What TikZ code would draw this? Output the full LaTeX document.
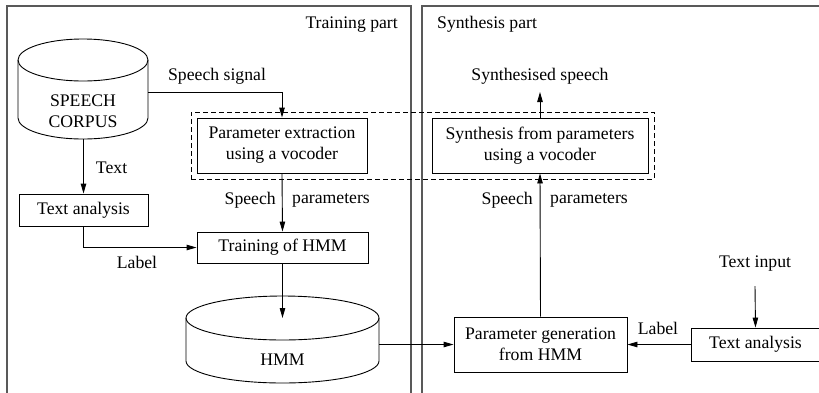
\documentclass[tikz,border=0pt]{standalone}
\usepackage{fontspec}
\setmainfont{Liberation Serif}
\newfontfamily\diagfont{Liberation Serif}
\usetikzlibrary{arrows.meta,fit}
\begin{document}
\begin{tikzpicture}[x=1pt,y=-1pt,
  every node/.style={font=\diagfont\fontsize{17.7}{21}\selectfont, inner sep=0pt},
  blk/.style={draw, line width=0.9pt, align=center},
  conn/.style={line width=0.9pt, -{Triangle[length=10pt,width=5.5pt]}},
  wire/.style={line width=0.9pt},
  panel/.style={draw=black!65, line width=1.2pt},
  grp/.style={draw, line width=0.9pt, dash pattern=on 5pt off 3pt, inner sep=5.5pt}]
\useasboundingbox (0,0) rectangle (819,392);
\clip (0,0) rectangle (819,392);

% the two panels, open at the bottom
\draw[panel] (7,400) -- (7,6) -- (411,6) -- (411,400);
\draw[panel] (422,400) -- (422,6) -- (830,6);
\node[anchor=east] (ttrain) at (398,24.5) {Training part};
\node[anchor=west] (tsynth) at (437,24) {Synthesis part};

% speech corpus cylinder
\draw[wire] (83,60) ellipse [x radius=65, y radius=21];
\draw[wire] (18,60) -- (18,118) arc[start angle=180, end angle=360, x radius=65, y radius=-21] -- (148,60);
\node[align=center] (corpus) at (83,111.5) {SPEECH\\CORPUS};
\coordinate (corpusS) at (83.5,139);
\coordinate (corpusE) at (148,92);

% HMM cylinder
\draw[wire] (282.5,318) ellipse [x radius=96.5, y radius=22];
\draw[wire] (186,318) -- (186,361) arc[start angle=180, end angle=360, x radius=96.5, y radius=-22] -- (379,318);
\node (hmm) at (282.5,360) {HMM};
\coordinate (hmmC) at (282.5,318);
\coordinate (hmmE) at (379,344.5);

% processing blocks
\node[blk, minimum width=170pt, minimum height=55pt] (extract) at (282,145.5) {Parameter extraction\\using a vocoder};
\node[blk, minimum width=171pt, minimum height=31pt] (train) at (282.5,247.5) {Training of HMM};
\node[blk, minimum width=129pt, minimum height=32pt] (tana) at (83.5,210) {Text analysis};
\node[blk, minimum width=216pt, minimum height=55pt] (synth) at (540,145.5) {Synthesis from parameters\\using a vocoder};
\node[blk, minimum width=173pt, minimum height=55pt] (pgen) at (540.5,344.5) {Parameter generation\\from HMM};
\node[blk, minimum width=129pt, minimum height=33pt] (tanb) at (755.5,344.5) {Text analysis};

% vocoder group
\node[grp, fit=(extract)(synth)] (vocoders) {};

% free texts
\node (sig) at (217,76) {Speech signal};
\node (out) at (540,76) {Synthesised speech};
\node (tin) at (755,263.5) {Text input};
\coordinate (outC) at (540,92);
\coordinate (tinS) at (755,286);

% connectors
\draw[conn] (corpusE) -| (extract.north);
\draw[conn] (corpusS) -- (tana.north) node[pos=0.52, right=12pt] (ltext) {Text};
\draw[conn] (tana.south) |- (train.west);
\node (llab1) at (137,262.5) {Label};
\draw[conn] (extract.south) -- (train.north);
\node[anchor=east] (sp1) at (276,200) {Speech};
\node[anchor=west] (pa1) at (292,200) {parameters};
\draw[conn] (train.south) -- (hmmC);
\draw[conn] (hmmE) -- (pgen.west);
\draw[conn] (pgen.north) -- (synth.south);
\node[anchor=east] (sp2) at (533,200) {Speech};
\node[anchor=west] (pa2) at (550,200) {parameters};
\draw[conn] (synth.north) -- (outC);
\draw[conn] (tinS) -- (tanb.north);
\draw[conn] (tanb.west) -- (pgen.east);
\node (llab2) at (658,328) {Label};
\end{tikzpicture}
\end{document}
